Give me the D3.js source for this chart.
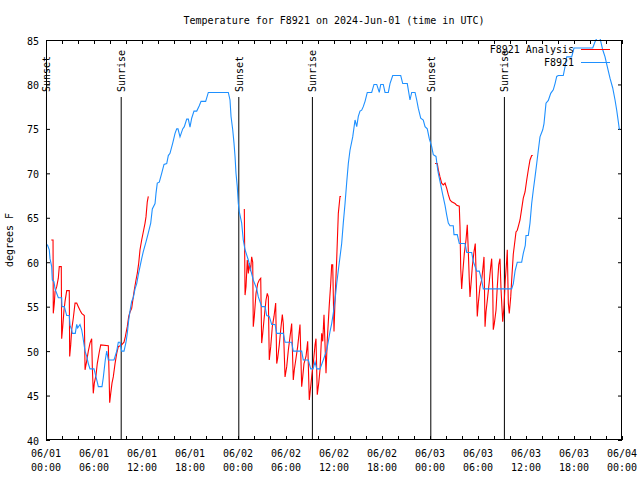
<!DOCTYPE html>
<html><head><meta charset="utf-8">
<script src="https://cdn.jsdelivr.net/npm/d3@7/dist/d3.min.js"></script>
<style>body{margin:0;background:#fff}svg{display:block}text{font-family:"DejaVu Sans Mono",monospace;font-size:10px;fill:#000}</style>
</head><body><svg id="c" width="640" height="480"></svg>
<script>
// hours since 2024-06-01 00:00 UTC
const blueHours=[0.16,0.41,0.5,0.71,0.79,1.0,1.13,1.54,1.96,2.0,2.29,2.59,2.91,3.0,3.21,3.29,3.66,3.84,3.96,4.25,4.46,4.63,4.71,4.88,5.09,5.29,5.5,6.0,6.25,6.41,6.54,7.0,7.16,7.41,7.59,7.79,8.5,8.84,9.04,9.25,9.46,9.75,10.0,10.16,10.34,10.5,10.71,10.91,11.13,11.34,11.54,11.75,11.96,12.16,12.5,12.79,13.09,13.29,13.63,13.75,13.91,14.16,14.46,14.75,15.09,15.29,15.5,15.84,16.13,16.34,16.5,16.75,17.09,17.29,17.59,17.79,18.0,18.21,18.5,18.84,19.16,19.38,19.96,20.29,22.79,23.0,23.13,23.34,23.5,23.63,23.75,23.91,24.04,24.16,24.46,24.66,24.88,25.29,25.59,25.91,26.34,26.54,26.96,27.38,27.59,27.91,28.21,28.63,28.84,29.66,29.88,30.71,30.91,31.96,32.16,32.79,33.09,33.38,33.63,33.84,34.25,34.66,35.09,35.29,35.5,35.71,35.91,36.13,36.34,36.54,36.75,36.96,37.16,37.38,37.59,37.79,38.0,38.34,38.63,38.84,39.04,39.25,39.46,39.66,39.88,40.16,40.71,41.0,41.34,41.66,41.84,42.16,42.38,42.79,43.0,43.34,44.34,44.59,45.16,45.5,45.71,46.13,46.34,46.54,46.84,47.16,47.38,47.66,47.91,48.21,48.41,48.75,48.91,49.04,49.34,49.59,49.88,50.09,50.29,50.5,50.91,51.0,51.41,51.66,52.38,52.59,53.21,53.41,53.84,54.16,54.46,54.66,58.21,58.41,58.63,58.91,59.46,59.66,59.91,60.0,60.29,60.5,60.71,60.91,61.13,61.34,61.54,61.75,62.09,62.25,62.5,62.79,63.09,63.41,63.63,63.84,64.04,64.66,64.88,65.09,65.71,66.0,68.34,68.63,68.91,69.25,69.59,69.88,70.16,70.5,70.84,71.13,71.34,71.54,71.66,71.75];
const blueTemps=[62.0,61.4,60.4,59.5,58,57.8,57,56,56,55,55,54,54,52.9,52.4,52,52,53,52.6,53,52.4,51.5,51,50,49.4,48.6,48,48,47.1,46.5,46,46,47,49,50,49,49,50,51,51,50,50,51,52,53.5,54.5,55.6,56,57,57.6,58.6,59.5,60.4,61.2,62.3,63.3,64.4,66,66.6,67.75,68.9,69,70,71,71.1,72,72.25,73.4,74.5,75,75,74.1,75,75.25,76.1,76.1,75.2,76.2,77,77,77.6,78.1,78.1,79.1,79.1,78.25,76.4,74.9,73.4,71.9,70,68.5,66.6,65.7,64.4,62.5,61.4,60.25,59.1,58,57,56.1,55,55,54,53.9,53,53,52,52,51,51,50,50,49,49,48,48,48.8,48,48,49,50.1,51.1,52.2,53.1,54.25,55.75,57.6,59.1,60.6,62.1,64.4,66.6,69,71.1,72.6,74.1,76,75.25,76.4,77,77.1,77.5,78.1,79.1,79.1,80,80,79.1,80,80,79.1,79.1,80.1,81,81,80.1,80.1,78.25,79.1,79.1,78.25,77.3,76.2,76,75.25,75,73.9,73,72.1,71.9,70.75,70,68.7,67.6,66.4,65.3,64.4,64.1,64.1,63.1,63.1,62.1,62.1,61.1,61.1,60.1,59,59,58,57,57,57.55,59,60,60,61,61.9,63,63,64.4,66.6,68.1,69.6,71.1,72.6,74.1,74.9,75.6,77.9,78.2,79,79.4,80.1,80.9,81,81,82,83.1,83.1,84.1,84.1,84.8,85.3,85.2,83.9,83.1,82,80.7,79.6,78.25,77.1,75.8,75,75];
// analysis series (null separates nights)
const redHours=[0.66,0.88,0.91,1.04,1.13,1.34,1.54,1.66,1.91,1.96,2.09,2.25,2.38,2.59,2.91,2.96,3.09,3.21,3.41,3.63,3.84,4.04,4.25,4.46,4.79,4.88,5.09,5.29,5.5,5.71,5.79,5.91,6.04,6.25,6.41,6.66,6.84,7.79,7.88,7.96,8.09,8.25,8.41,8.63,8.84,9.04,9.46,9.75,9.91,10.16,10.34,10.5,10.71,10.91,11.04,11.25,11.41,11.59,11.75,11.96,12.16,12.38,12.5,12.66,12.79,
 null,
 24.79,24.88,25.0,25.16,25.29,25.41,25.56,25.71,25.84,25.91,26.04,26.25,26.46,26.66,26.84,26.96,27.09,27.29,27.5,27.66,27.79,27.91,28.09,28.29,28.5,28.71,28.84,28.96,29.16,29.34,29.54,29.66,29.88,30.09,30.29,30.5,30.71,30.91,31.04,31.25,31.46,31.75,31.96,32.09,32.25,32.5,32.71,32.91,33.0,33.21,33.41,33.63,33.75,33.91,34.09,34.25,34.46,34.59,34.75,35.0,35.16,35.41,35.59,35.71,35.84,36.0,36.13,36.34,36.54,36.75,36.88,
 null,
 48.63,48.91,49.04,49.25,49.46,49.66,49.88,50.09,50.29,50.5,50.71,51.13,51.34,51.66,51.75,51.84,51.96,52.09,52.29,52.5,52.66,52.79,52.91,53.0,53.13,53.29,53.5,53.66,53.75,53.91,54.04,54.25,54.46,54.59,54.75,54.88,55.0,55.21,55.41,55.59,55.71,55.84,55.91,56.04,56.25,56.41,56.59,56.75,56.88,57.09,57.25,57.41,57.59,57.66,57.79,57.91,58.09,58.21,58.41,58.63,58.75,58.91,59.09,59.25,59.46,59.66,59.88,60.09,60.29,60.5,60.71,60.84];
const redTemps=[62.5,62.5,54.25,55.4,56.7,57.25,58.2,59.5,59.5,51.4,52.75,54.6,55.6,56.8,56.8,49.4,50.7,52.4,53.7,55.4,55.4,55,54.6,54.25,54,47.9,48.9,50,50.9,51.4,48.25,45.25,46.4,47.3,48.6,49.9,50.7,50.6,47.5,44.2,45.25,46.4,47.1,48.6,49.75,50.5,50.7,51,51.6,52.75,53.9,54.4,54.8,56.1,56.9,58,58.75,59.9,61.4,62.5,63.4,64.4,65.1,66.8,67.4,
 null,
 66,56.3,57.25,60.25,58.75,59.9,59,60.6,60,52.75,53.9,56.5,57.6,58,58.2,50.9,52,53.9,55.75,56.5,56.1,49,50.5,52.75,53.9,55.4,48.6,49.2,50.7,52.4,54.1,53.1,47.1,48.25,50.1,51.6,53.1,46.75,47.9,49.2,50.5,53,46,47.1,48.6,49.4,51.1,44.5,45.25,47.1,48.6,50.7,51.4,45.1,46.4,47.9,52,51.1,54.1,47.5,51.25,55.2,57.6,59.7,59.7,52.2,55.75,60.4,65.5,67.4,67.4,
 null,
 71.1,71.1,70.4,69.6,68.9,68.7,68.9,68.3,67.6,67,66.8,66.6,66.4,66.3,64,59.3,57,58.75,61,62.5,64.2,61.2,58,56.1,57.6,59.5,61.2,62.1,59.1,53.9,55.4,57.25,58,59.1,60.6,52.75,54.4,56.1,57.8,59.5,60.4,57.25,52.4,53.1,54.6,57.25,59.7,60.4,56.9,53.3,55,58,60.25,61.4,55.4,54.25,56.1,58,60.9,62.5,63.4,63.6,64.2,64.75,66,67.2,67.9,69.25,70.4,71.5,72,72];
const sunsetHours=[0.06,24.1,48.1];
const sunriseHours=[9.4,33.3,57.3];
const yTicks=[40,45,50,55,60,65,70,75,80,85];
const xTickHours=d3.range(0,73,2);
const xLabelHours=[0,6,12,18,24,30,36,42,48,54,60,66,72];
const xLabelDates=["06/01","06/01","06/01","06/01","06/02","06/02","06/02","06/02","06/03","06/03","06/03","06/03","06/04"];
const xLabelTimes=["00:00","06:00","12:00","18:00","00:00","06:00","12:00","18:00","00:00","06:00","12:00","18:00","00:00"];
const seriesNames=["F8921 Analysis","F8921"];
const seriesColors=["#ff0000","#1e90ff"];

const svg=d3.select("#c");
const L=46,R=622,T=40,B=440;
const x=d3.scaleLinear().domain([0,72]).range([L,R]);
const y=d3.scaleLinear().domain([40,85]).range([B,T]);

svg.append("text").attr("x",(L+R)/2).attr("y",24).attr("text-anchor","middle").text("Temperature for F8921 on 2024-Jun-01 (time in UTC)");
svg.append("text").attr("transform","translate(13,240) rotate(-90)").attr("text-anchor","middle").text("degrees F");

// axes
svg.append("g").attr("transform",`translate(0,${B})`)
 .call(d3.axisBottom(x).tickValues(xTickHours).tickSizeInner(-4).tickSizeOuter(0).tickFormat(""));
svg.append("g").attr("transform",`translate(0,${T})`)
 .call(d3.axisTop(x).tickValues(xTickHours).tickSizeInner(-4).tickSizeOuter(0).tickFormat(""));
const gy=svg.append("g").attr("transform",`translate(${L},0)`)
 .call(d3.axisLeft(y).tickValues(yTicks).tickSizeInner(-4).tickSizeOuter(0).tickFormat(d3.format("d")));
svg.append("g").attr("transform",`translate(${R},0)`)
 .call(d3.axisRight(y).tickValues(yTicks).tickSizeInner(-4).tickSizeOuter(0).tickFormat(""));
svg.selectAll(".domain").remove();
svg.selectAll(".tick line").attr("stroke","#000");
gy.selectAll("text").attr("x",-7).attr("dy","0.4em");
svg.selectAll(".tick text").style("font-family","DejaVu Sans Mono").style("font-size","10px");

const lab=svg.append("g");
xLabelHours.forEach((h,i)=>{
  lab.append("text").attr("x",x(h)).attr("y",457).attr("text-anchor","middle").text(xLabelDates[i]);
  lab.append("text").attr("x",x(h)).attr("y",471).attr("text-anchor","middle").text(xLabelTimes[i]);
});

// sunrise/sunset
const ev=[...sunsetHours.map(h=>({h,t:"Sunset"})),...sunriseHours.map(h=>({h,t:"Sunrise"}))];
ev.forEach(e=>{
  svg.append("line").attr("x1",x(e.h)).attr("x2",x(e.h)).attr("y1",97).attr("y2",B).attr("stroke","#000").attr("stroke-width",1);
  svg.append("text").attr("transform",`translate(${x(e.h)+4},92) rotate(-90)`).attr("text-anchor","start").text(e.t);
});

svg.append("defs").append("clipPath").attr("id","clp").append("rect").attr("x",L).attr("y",T-1).attr("width",R-L).attr("height",B-T+1);

const line=d3.line().defined(d=>d[0]!=null).x(d=>x(d[0])).y(d=>y(d[1]));
const redData=redHours.map((h,i)=>[h,redTemps[i]]);
const blueData=blueHours.map((h,i)=>[h,blueTemps[i]]);
svg.append("path").datum(redData).attr("d",line).attr("fill","none").attr("stroke",seriesColors[0]).attr("stroke-width",1.1).attr("clip-path","url(#clp)");
svg.append("path").datum(blueData).attr("d",line).attr("fill","none").attr("stroke",seriesColors[1]).attr("stroke-width",1.1).attr("clip-path","url(#clp)");

// border
svg.append("rect").attr("x",L+0.5).attr("y",T+0.5).attr("width",R-L-1).attr("height",B-T-1).attr("fill","none").attr("stroke","#000");

// legend
seriesNames.forEach((n,i)=>{
  const yy=49+i*13;
  svg.append("text").attr("x",574).attr("y",yy+4).attr("text-anchor","end").text(n);
  svg.append("line").attr("x1",581).attr("x2",610).attr("y1",yy+0.5).attr("y2",yy+0.5).attr("stroke",seriesColors[i]);
});
</script></body></html>
